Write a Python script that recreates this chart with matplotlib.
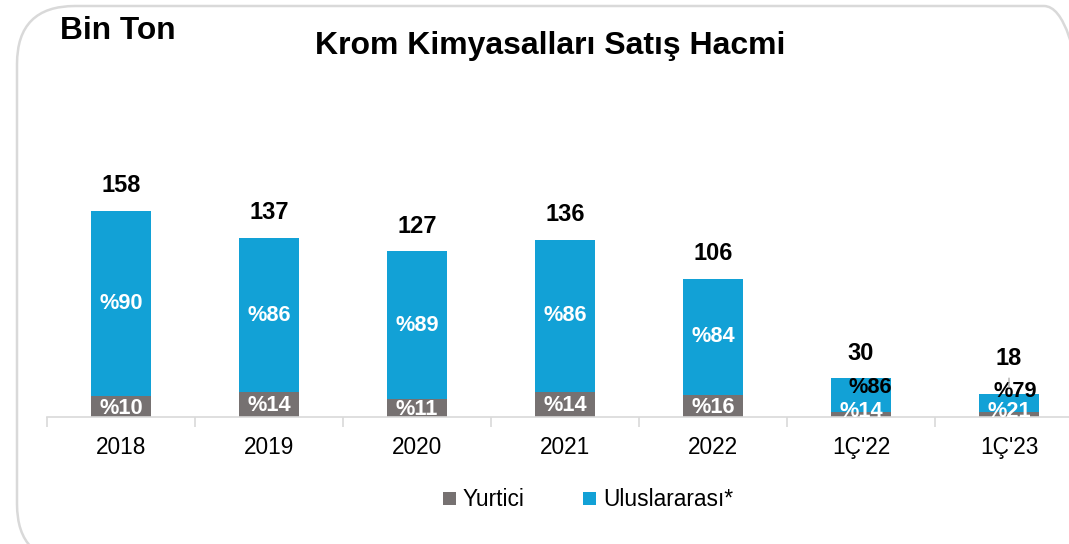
import matplotlib.pyplot as plt
import numpy as np
from matplotlib.patches import FancyBboxPatch
from matplotlib.transforms import IdentityTransform

plt.rcParams['font.family'] = ['Liberation Sans', 'DejaVu Sans']

# Datos (bin ton y pay yüzdeleri)
donemler = ['2018', '2019', '2020', '2021', '2022', "1Ç'22", "1Ç'23"]
toplam = [158, 137, 127, 136, 106, 30, 18]
yurtici_pct = [10, 14, 11, 14, 16, 14, 21]
uluslararasi_pct = [90, 86, 89, 86, 84, 86, 79]

MAVI = '#12A1D6'
GRI = '#767171'

W, H = 1069, 544
fig = plt.figure(figsize=(W / 100, H / 100), dpi=100)

# yuvarlak köşeli çerçeve (piksel koordinatlarında, orijin sol alt)
cerceve = FancyBboxPatch((17, H - 562), 1085, 556,
                         boxstyle='round,pad=0,rounding_size=58',
                         transform=IdentityTransform(), fill=False,
                         edgecolor='#d9d9d9', linewidth=1.8)
fig.patches.append(cerceve)

ax = fig.add_axes([47 / W, (H - 417) / H, 1036 / W, 337 / H])
x = np.arange(len(donemler))
toplam = np.array(toplam, dtype=float)
yurtici = toplam * np.array(yurtici_pct) / 100
uluslararasi = toplam - yurtici

ax.bar(x, yurtici, width=0.4, color=GRI, label='Yurtici')
ax.bar(x, uluslararasi, width=0.4, bottom=yurtici, color=MAVI, label='Uluslararası*')

ax.set_xlim(-0.5, 6.5)
ax.set_ylim(0, 337 / 1.304)
for s in ['top', 'right', 'left']:
    ax.spines[s].set_visible(False)
ax.spines['bottom'].set_color('#d9d9d9')
ax.spines['bottom'].set_linewidth(1.2)
ax.set_yticks([])
ax.set_xticks(x)
ax.set_xticklabels(donemler, fontsize=16.3)
ax.set_xticks(np.arange(-0.5, 7, 1), minor=True)
ax.tick_params(axis='x', which='major', length=0, pad=14)
ax.tick_params(axis='x', which='minor', length=7, color='#d9d9d9', width=1.2)

# etiketler: küçük barlarda yüzde etiketi yukarı kaydırılıyor
mavi_kayma = [0, 0, 0, 0, 0, 5.5, 8]
mavi_x_kayma = [0, 0, 0, 0, 0, 0.06, 0.04]
mavi_renk = ['white'] * 5 + ['black', 'black']
toplam_kayma = [10, 10, 10, 10, 10, 9, 17]
for i in range(len(x)):
    ax.annotate(f'{int(toplam[i])}', (x[i], toplam[i]), xytext=(0, toplam_kayma[i]),
                textcoords='offset points', ha='center', va='bottom',
                fontsize=17, fontweight='bold')
    ax.annotate(f'%{uluslararasi_pct[i]}', (x[i] + mavi_x_kayma[i], yurtici[i] + uluslararasi[i] / 2),
                xytext=(0, mavi_kayma[i]), textcoords='offset points',
                ha='center', va='center', fontsize=15.7, fontweight='bold',
                color=mavi_renk[i])
    ax.annotate(f'%{yurtici_pct[i]}', (x[i], yurtici[i] / 2), xytext=(0, 2 if i >= 5 else -1),
                textcoords='offset points', ha='center', va='center',
                fontsize=15.7, fontweight='bold', color='white')

# 1Ç'23 için kılavuz çizgi
ax.annotate('', xy=(x[6], toplam[6] + 2.5), xytext=(x[6], toplam[6] + 14),
            arrowprops=dict(arrowstyle='-', color='#999999', lw=0.8))

fig.text(60 / W, 1 - 31 / H, 'Bin Ton', fontsize=22.8, fontweight='bold', va='center')
fig.text(550 / W, 1 - 46 / H, 'Krom Kimyasalları Satış Hacmi', fontsize=23,
         fontweight='bold', ha='center', va='center')

fig.legend(loc='center', bbox_to_anchor=(588 / W, 1 - 500 / H), ncol=2, frameon=False,
           fontsize=16.4, handlelength=0.55, handleheight=0.55, handletextpad=0.3,
           columnspacing=2.6)

plt.savefig('out.png', dpi=100)
